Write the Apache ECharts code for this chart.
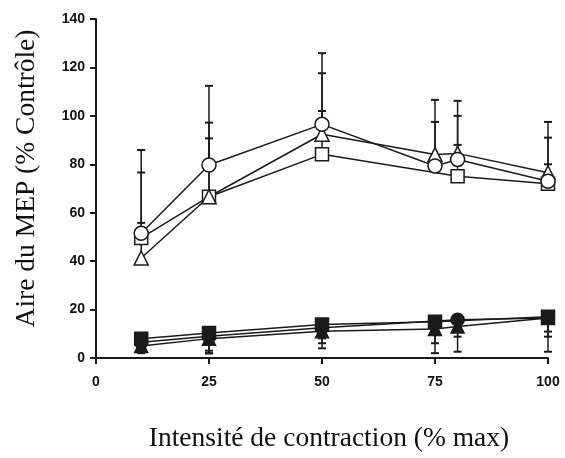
<!DOCTYPE html>
<html>
<head>
<meta charset="utf-8">
<style>
  html, body { margin: 0; padding: 0; background: #ffffff; }
  #chart { width: 565px; height: 458px; }
</style>
<script src="https://cdn.jsdelivr.net/npm/echarts@6/dist/echarts.min.js"></script>
</head>
<body>
<div id="chart"></div>
<script>
// ---- Data ----
const xTicks = [0, 25, 50, 75, 100];
const yTicks = [0, 20, 40, 60, 80, 100, 120, 140];

// Open markers (upper group): [x, mean]
const openCircle   = [[10, 51.5], [25, 79.7], [50, 96.5], [75, 79.3], [80, 82.0], [100, 73.0]];
const openTriangle = [[10, 41.3], [25, 66.6], [50, 92.4], [75, 84.0], [80, 84.5], [100, 76.5]];
const openSquare   = [[10, 49.6], [25, 66.6], [50, 84.1], [80, 75.1], [100, 72.0]];
// upper error-bar ends (same order as the means)
const openCircleErr   = [85.9, 112.4, 125.9, 97.5, 100.0, 91.0];
const openTriangleErr = [76.6, 97.2, 117.6, 106.6, 106.2, 97.5];
const openSquareErr   = [55.8, 90.7, 102.0, 88.0, 80.0];

// Filled markers (lower group): [x, mean]
const filledSquare   = [[10, 8.0], [25, 10.3], [50, 13.8], [75, 15.0], [100, 17.0]];
const filledCircle   = [[10, 6.5], [25, 9.0], [50, 12.5], [80, 15.8], [100, 16.5]];
const filledTriangle = [[10, 5.0], [25, 8.0], [50, 11.0], [75, 12.0], [80, 13.0], [100, 16.5]];
// lower error-bar ends
const filledSquareErr   = [4.0, 1.9, 8.1, 2.0, 10.9];
const filledCircleErr   = [3.3, 2.0, 6.1, 2.6, 8.8];
const filledTriangleErr = [2.0, 3.0, 4.0, 6.1, 8.8, 2.6];

const INK = '#1a1a1a';

function errData(means, ends) {
  return means.map((p, i) => [p[0], p[1], ends[i]]);
}

function errSeries(means, ends) {
  return {
    type: 'custom',
    z: 1,
    silent: true,
    data: errData(means, ends),
    encode: { x: 0, y: [1, 2] },
    renderItem: function (params, api) {
      const x = api.value(0);
      const a = api.coord([x, api.value(1)]);
      const b = api.coord([x, api.value(2)]);
      const hw = 4;
      return {
        type: 'group',
        children: [
          { type: 'line', shape: { x1: a[0], y1: a[1], x2: b[0], y2: b[1] },
            style: { stroke: INK, lineWidth: 1.5 } },
          { type: 'line', shape: { x1: b[0] - hw, y1: b[1], x2: b[0] + hw, y2: b[1] },
            style: { stroke: INK, lineWidth: 2 } }
        ]
      };
    }
  };
}

function lineSeries(data, symbol, filled, size) {
  return {
    type: 'line',
    z: 3,
    data: data,
    symbol: symbol,
    symbolSize: size,
    showAllSymbol: true,
    lineStyle: { color: INK, width: 1.5 },
    itemStyle: {
      color: filled ? INK : '#ffffff',
      borderColor: INK,
      borderWidth: 1.5
    },
    emphasis: { disabled: true },
    animation: false
  };
}

const chart = echarts.init(document.getElementById('chart'), null, { renderer: 'canvas' });

chart.setOption({
  animation: false,
  backgroundColor: '#ffffff',
  grid: { left: 96, right: 17, top: 19, bottom: 93, containLabel: false },
  xAxis: {
    type: 'value',
    min: 0, max: 100, interval: 25,
    name: 'Intensité de contraction (% max)',
    nameLocation: 'middle',
    nameGap: 67,
    nameTextStyle: { fontFamily: 'Liberation Serif', fontSize: 27.5, color: '#111', padding: [0, 0, 0, 14] },
    axisLine: { show: true, lineStyle: { color: INK, width: 2 } },
    axisTick: { show: true, inside: false, length: 6, lineStyle: { color: INK, width: 2 } },
    axisLabel: {
      margin: 17,
      fontFamily: 'Liberation Sans', fontWeight: 'bold', fontSize: 14, color: '#111',
      formatter: v => (xTicks.indexOf(v) >= 0 ? String(v) : '')
    },
    splitLine: { show: false }
  },
  yAxis: {
    type: 'value',
    min: 0, max: 140, interval: 20,
    name: 'Aire du MEP (% Contrôle)',
    nameLocation: 'middle',
    nameGap: 55,
    nameTextStyle: { fontFamily: 'Liberation Serif', fontSize: 27.5, color: '#111', padding: [0, 0, 0, 20] },
    axisLine: { show: true, lineStyle: { color: INK, width: 2 } },
    axisTick: { show: true, inside: false, length: 6, lineStyle: { color: INK, width: 2 } },
    axisLabel: {
      margin: 11,
      fontFamily: 'Liberation Sans', fontWeight: 'bold', fontSize: 14, color: '#111',
      formatter: v => (yTicks.indexOf(v) >= 0 ? String(v) : '')
    },
    splitLine: { show: false }
  },
  series: [
    errSeries(openCircle, openCircleErr),
    errSeries(openTriangle, openTriangleErr),
    errSeries(openSquare, openSquareErr),
    errSeries(filledSquare, filledSquareErr),
    errSeries(filledCircle, filledCircleErr),
    errSeries(filledTriangle, filledTriangleErr),
    lineSeries(openSquare, 'rect', false, 13),
    lineSeries(openTriangle, 'triangle', false, 14),
    lineSeries(openCircle, 'circle', false, 14),
    lineSeries(filledTriangle, 'triangle', true, 13),
    lineSeries(filledCircle, 'circle', true, 13),
    lineSeries(filledSquare, 'rect', true, 13)
  ]
});
</script>
</body>
</html>
